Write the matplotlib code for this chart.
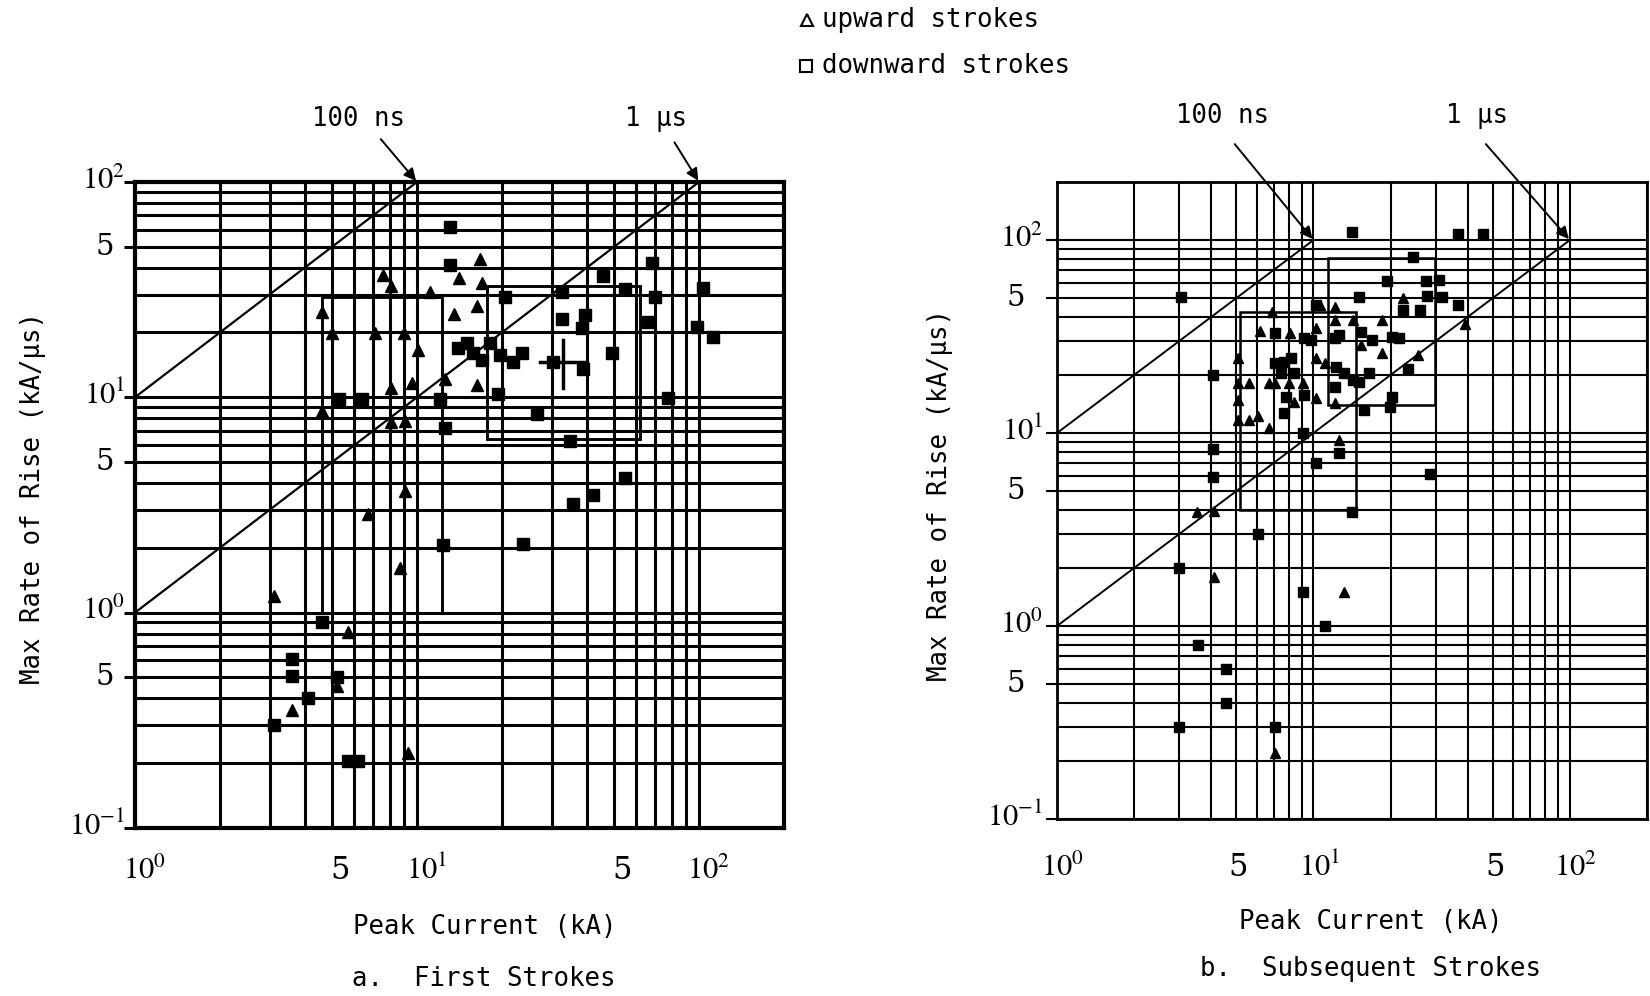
import matplotlib
matplotlib.use('Agg')
import matplotlib.pyplot as plt
from matplotlib.lines import Line2D
from matplotlib.patches import Rectangle
from matplotlib.ticker import LogLocator, FixedLocator, NullFormatter

plt.rcParams['font.family'] = 'DejaVu Sans Mono'
plt.rcParams['mathtext.fontset'] = 'stix'

# ---- a. first strokes: peak current (kA), max rate of rise (kA/us) ----
first_up_I = [16.7, 7.6, 8.1, 14.1, 17.0, 11.1, 4.6, 13.5, 16.3, 5.0, 7.1, 9.0,
              10.1, 12.6, 9.6, 8.1, 16.3, 8.1, 9.1, 4.6, 9.1, 6.7, 8.7, 3.1,
              5.7, 5.2, 3.6, 9.3]
first_up_R = [43.8, 36.9, 32.8, 35.7, 33.9, 30.8, 24.8, 24.3, 26.5, 19.9, 19.9, 19.9,
              16.6, 12.2, 11.7, 11.0, 11.4, 7.7, 7.8, 8.6, 3.66, 2.88, 1.62, 1.20,
              0.81, 0.457, 0.354, 0.223]

first_down_I = [13.1, 13.1, 20.5, 32.7, 45.7, 68.1, 54.7, 69.8, 103, 32.7, 39.4, 38.6,
                65.9, 98.4, 112, 14.0, 15.1, 15.8, 17.0, 18.2, 19.7, 21.9, 23.6, 30.4,
                38.8, 49.1, 19.4, 12.1, 5.3, 6.4, 12.6, 26.6, 34.9, 54.7, 42.1, 35.7,
                77.6, 12.4, 23.8, 4.6, 3.6, 3.6, 5.2, 4.1, 3.1, 5.7, 6.2]
first_down_R = [61.8, 41.1, 29.2, 30.8, 36.6, 42.0, 31.8, 29.2, 32.1, 23.1, 24.0, 20.9,
                22.3, 21.2, 19.0, 16.9, 17.8, 16.0, 14.9, 17.8, 15.7, 14.6, 16.0, 14.6,
                13.6, 16.0, 10.4, 9.8, 9.8, 9.8, 7.2, 8.4, 6.3, 4.2, 3.5, 3.18,
                9.9, 2.07, 2.08, 0.90, 0.61, 0.51, 0.50, 0.40, 0.30, 0.205, 0.205]

# ranges drawn as boxes: (I_low, I_high, R_low, R_high)
first_boxes = [(4.6, 12.3, 1.0, 29.2), (17.7, 62.0, 6.4, 32.8)]
# spread bars around one reading
first_hbar = ([27.3, 40.2], [14.6, 14.6])
first_vbar = ([32.9, 32.9], [11.1, 18.4])

# ---- b. subsequent strokes ----
subs_up_I = [22.3, 39.1, 12.1, 12.1, 14.3, 8.1, 10.2, 18.5, 18.5, 15.3, 25.6, 11.1,
             12.1, 12.6, 5.6, 6.7, 5.6, 6.1, 6.7, 7.1, 8.0, 10.2, 10.2, 5.1,
             5.1, 5.1, 5.1, 3.5, 4.1, 4.1, 13.2, 7.1, 9.1, 8.4, 6.9, 6.2, 10.6]
subs_up_R = [50.0, 36.7, 45.0, 38.5, 38.5, 33.0, 35.0, 38.5, 26.0, 28.6, 25.4, 23.1,
             14.3, 9.2, 18.2, 18.2, 11.7, 12.2, 10.6, 18.2, 18.2, 15.2, 24.5, 24.5,
             18.2, 14.8, 11.7, 3.9, 3.94, 1.8, 1.5, 0.22, 18.2, 14.5, 42.4, 33.8, 46.0]

subs_down_I = [14.1, 36.7, 46.0, 24.4, 19.3, 27.5, 30.9, 15.1, 22.3, 27.7, 31.8, 36.7,
               26.0, 10.2, 7.1, 9.2, 9.8, 12.1, 12.6, 15.3, 16.9, 20.2, 21.5, 23.4,
               12.3, 13.2, 14.3, 15.1, 12.1, 16.4, 20.2, 15.7, 19.9, 12.6, 28.5, 7.1,
               7.7, 8.2, 7.5, 8.4, 7.8, 9.2, 7.7, 9.1, 4.05, 4.05, 4.05, 10.2,
               3.04, 14.2, 6.1, 3.0, 9.1, 11.1, 3.54, 4.56, 4.56, 3.0, 7.1]
subs_down_R = [110, 108, 108, 81.6, 61.4, 61.0, 62.0, 50.7, 43.4, 51.0, 50.7, 46.1,
               43.4, 46.1, 33.0, 31.0, 30.3, 31.0, 32.2, 33.4, 30.3, 31.4, 31.0, 21.5,
               22.0, 20.5, 18.9, 18.4, 17.3, 20.5, 15.4, 13.2, 13.7, 7.9, 6.1, 23.1,
               23.3, 24.5, 20.5, 20.5, 15.4, 15.7, 12.7, 10.0, 20.0, 8.3, 5.9, 7.0,
               50.7, 3.9, 3.0, 2.0, 1.5, 1.0, 0.80, 0.60, 0.40, 0.30, 0.30]

subs_boxes = [(5.17, 14.6, 4.0, 42.4), (11.4, 29.8, 14.0, 80.7)]

rise_times = [0.1, 1.0]          # us, constant-front lines
rise_labels = ['100 ns', '1 \u00b5s']

xlim = (1, 200)
ylims = [(0.1, 100), (0.1, 200)]

fig = plt.figure(figsize=(16.5, 9.96), dpi=100)
ax_a = fig.add_axes([0.0818, 0.1687, 0.3933, 0.6486])
ax_b = fig.add_axes([0.6406, 0.1777, 0.3576, 0.6396])

PX = 72 / 100  # points per pixel
TXT = 18.5


def setup(ax, ylim, grid_lw, spine_lw, xlab_dy, x10_dx, x5_dx, y10_dx, y5_dx):
    ax.set_xscale('log')
    ax.set_yscale('log')
    ax.set_xlim(*xlim)
    ax.set_ylim(*ylim)
    allsubs = [1, 2, 3, 4, 5, 6, 7, 8, 9]
    ax.xaxis.set_major_locator(FixedLocator([1, 10, 100]))
    ax.xaxis.set_minor_locator(LogLocator(base=10, subs=allsubs, numticks=20))
    ax.yaxis.set_major_locator(FixedLocator([0.1, 0.5, 1, 5, 10, 50, 100]))
    ax.yaxis.set_minor_locator(LogLocator(base=10, subs=allsubs, numticks=20))
    for a in (ax.xaxis, ax.yaxis):
        a.set_major_formatter(NullFormatter())
        a.set_minor_formatter(NullFormatter())
    ax.tick_params(axis='x', which='both', length=0)
    ax.tick_params(axis='y', which='major', length=8, width=grid_lw, direction='out')
    ax.tick_params(axis='y', which='minor', length=0)
    ax.grid(True, which='both', color='black', linewidth=grid_lw)
    ax.set_axisbelow(True)
    for s in ax.spines.values():
        s.set_linewidth(spine_lw)

    # tick labels
    for v, lab in [(1, r'$10^{0}$'), (5, '5'), (10, r'$10^{1}$'), (50, '5'), (100, r'$10^{2}$')]:
        dx = x5_dx if lab == '5' else x10_dx
        ax.annotate(lab, xy=(v, 0), xycoords=('data', 'axes fraction'),
                    xytext=(dx * PX, xlab_dy * PX), textcoords='offset points',
                    ha='center', va='baseline', fontsize=22, family='DejaVu Serif')
    for v, lab in [(0.1, r'$10^{-1}$'), (0.5, '5'), (1, r'$10^{0}$'), (5, '5'),
                   (10, r'$10^{1}$'), (50, '5'), (100, r'$10^{2}$')]:
        if lab == '5':
            ax.annotate(lab, xy=(0, v), xycoords=('axes fraction', 'data'),
                        xytext=(y5_dx * PX, 0), textcoords='offset points',
                        ha='center', va='center', fontsize=21, family='DejaVu Serif')
        else:
            ax.annotate(lab, xy=(0, v), xycoords=('axes fraction', 'data'),
                        xytext=(y10_dx * PX, 2 * PX), textcoords='offset points',
                        ha='right', va='center', fontsize=22)


setup(ax_a, ylims[0], 2.2, 3.0, -51, 10, 8, -10, -30)
setup(ax_b, ylims[1], 1.5, 2.0, -57, 6, 2, -14, -41)


def draw(ax, upI, upR, dnI, dnR, boxes, ms, lw):
    for t in rise_times:
        ax.plot([1, 100 * t], [1 / t, 100], color='black', lw=lw, zorder=3)
    for (x0, x1, y0, y1) in boxes:
        ax.add_patch(Rectangle((x0, y0), x1 - x0, y1 - y0, fill=False,
                               edgecolor='black', lw=lw * 1.3, zorder=3))
    ax.plot(upI, upR, '^', color='black', ms=ms, zorder=4, clip_on=False)
    ax.plot(dnI, dnR, 's', color='black', ms=ms, zorder=4, clip_on=False)


draw(ax_a, first_up_I, first_up_R, first_down_I, first_down_R, first_boxes, 8, 1.6)
ax_a.plot(*first_hbar, color='black', lw=2.5, zorder=4)
ax_a.plot(*first_vbar, color='black', lw=2.5, zorder=4)
draw(ax_b, subs_up_I, subs_up_R, subs_down_I, subs_down_R, subs_boxes, 7, 1.4)

# arrows to the ends of the rise-time lines (text positions in figure pixels)
H = 996.0
arrow_text = {ax_a: [(359, 119, 379, 137), (656, 119, 673, 140)],
              ax_b: [(1223, 116, 1233, 142), (1477, 116, 1484, 142)]}
for ax, items in arrow_text.items():
    for (tx, ty, sx, sy), t, lab in zip(items, rise_times, rise_labels):
        fig.text(tx / 1650, 1 - ty / H, lab, ha='center', va='center', fontsize=TXT)
        ax.annotate('', xy=(100 * t, 100), xycoords='data',
                    xytext=(sx / 1650, 1 - sy / H), textcoords='figure fraction',
                    arrowprops=dict(arrowstyle='-|>', color='black', lw=1.4,
                                    mutation_scale=18, shrinkB=1))

# axis titles
fig.text(33 / 1650, 1 - 498 / H, 'Max Rate of Rise (kA/\u00b5s)', rotation=90,
         ha='center', va='center', fontsize=TXT)
fig.text(940 / 1650, 1 - 495 / H, 'Max Rate of Rise (kA/\u00b5s)', rotation=90,
         ha='center', va='center', fontsize=TXT)
fig.text(485 / 1650, 1 - 927 / H, 'Peak Current (kA)', ha='center', va='center', fontsize=TXT)
fig.text(1371 / 1650, 1 - 922 / H, 'Peak Current (kA)', ha='center', va='center', fontsize=TXT)
fig.text(484 / 1650, 1 - 979 / H, 'a.  First Strokes', ha='center', va='center', fontsize=TXT)
fig.text(1370 / 1650, 1 - 969 / H, 'b.  Subsequent Strokes', ha='center', va='center', fontsize=TXT)

# key
fig.add_artist(Line2D([807 / 1650], [1 - 20 / H], marker='^', mfc='none', mec='black',
                      ms=8, mew=1.5, ls='none', transform=fig.transFigure))
fig.add_artist(Line2D([806 / 1650], [1 - 66 / H], marker='s', mfc='none', mec='black',
                      ms=8, mew=1.5, ls='none', transform=fig.transFigure))
fig.text(822 / 1650, 1 - 20 / H, 'upward strokes', ha='left', va='center', fontsize=TXT)
fig.text(822 / 1650, 1 - 66 / H, 'downward strokes', ha='left', va='center', fontsize=TXT)

fig.savefig('out.png', dpi=100, facecolor='white')
